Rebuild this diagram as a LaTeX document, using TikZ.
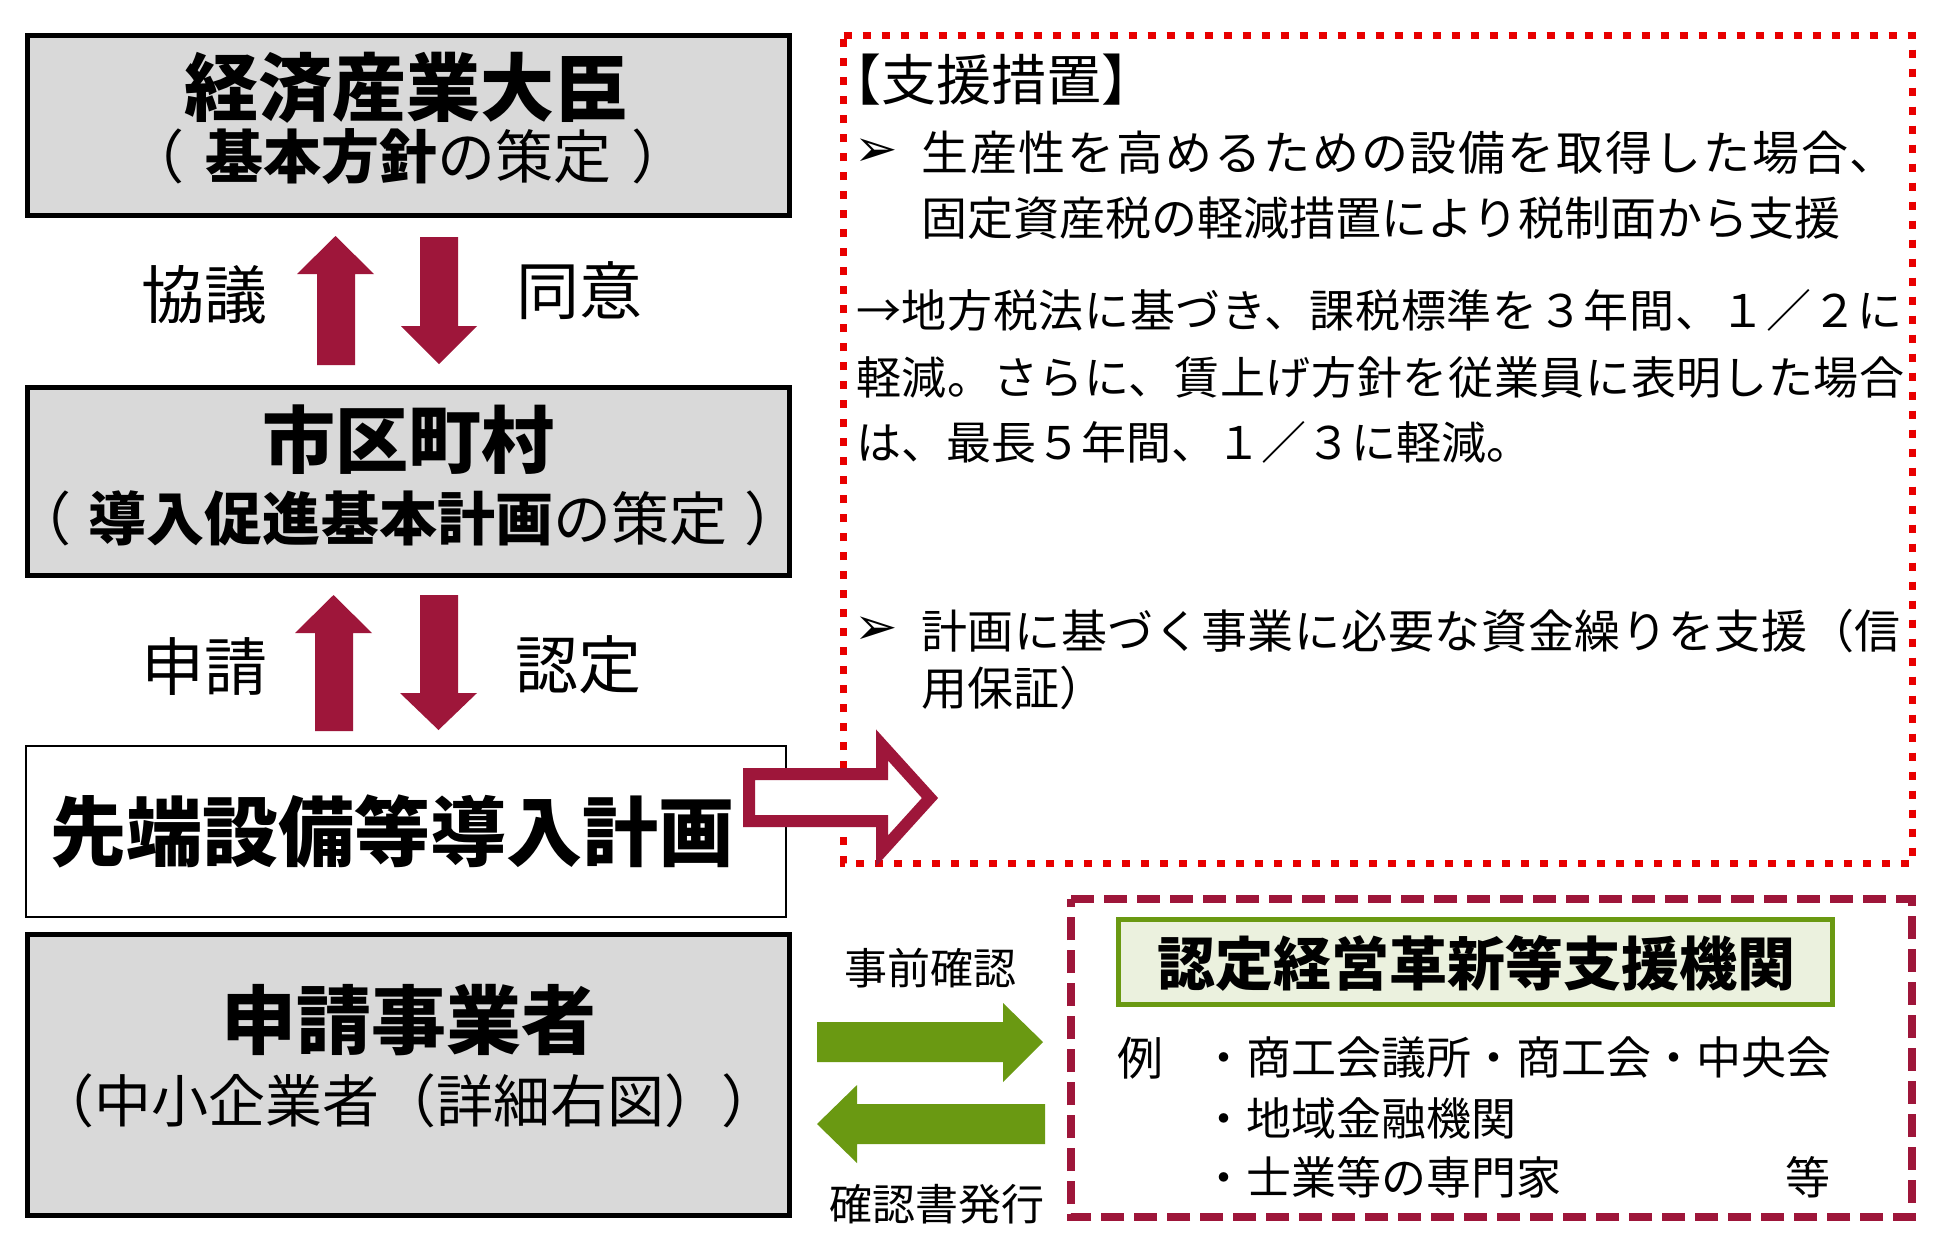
\documentclass[tikz,border=0pt]{standalone}
\usepackage{fontspec}
\setmainfont{Noto Sans CJK JP}
\newfontfamily\dejavu{DejaVu Sans}
\definecolor{maroon}{RGB}{158,22,58}
\definecolor{dotred}{RGB}{232,0,0}
\definecolor{grn}{RGB}{106,153,18}
\definecolor{grnfill}{RGB}{235,241,222}
\definecolor{boxgray}{RGB}{217,217,217}
\newcommand\fs[1]{\fontsize{#1}{#1}\selectfont}
\begin{document}
\begin{tikzpicture}[x=1pt,y=-1pt,
  graybox/.style={draw=black, line width=5pt, fill=boxgray, inner sep=0pt},
  whitebox/.style={draw=black, line width=2.5pt, fill=white, inner sep=0pt},
  txt/.style={inner sep=0pt, text=black},
  bullet/.style={inner sep=0pt, text=black, font=\dejavu\bfseries\fs{52}},
  blockarrow/.style={fill=maroon, draw=none},
  greenarrow/.style={fill=grn, draw=none},
  dottedframe/.style={draw=dotred, line width=7pt, dash pattern=on 8pt off 11pt},
  dashedframe/.style={draw=maroon, line width=8pt, dash pattern=on 23pt off 10pt},
  titlebox/.style={draw=grn, line width=5pt, fill=grnfill, inner sep=0pt}]
\useasboundingbox[fill=white] (0,0) rectangle (1953,1248);

% left boxes
\node[graybox, minimum width=762pt, minimum height=180pt] (b1) at (408.5,125.5) {};
\node[graybox, minimum width=762pt, minimum height=188pt] (b2) at (408.5,481.5) {};
\node[whitebox, minimum width=760pt, minimum height=171pt] (b3) at (406,831.5) {};
\node[graybox, minimum width=762pt, minimum height=281pt] (b4) at (408.5,1075) {};

\node[txt, font=\fs{74}\bfseries] (t1) at (406,88) {経済産業大臣};
\node[txt, font=\fs{58}] (t1b) at (408,157) {（\hspace{0.35em}\textbf{基本方針}の策定\hspace{0.35em}）};
\node[txt, font=\fs{73}\bfseries] (t2) at (408,440) {市区町村};
\node[txt, font=\fs{58}] (t2b) at (408,518) {（\hspace{0.3em}\textbf{導入促進基本計画}の策定\hspace{0.3em}）};
\node[txt, font=\fs{76}\bfseries] (t3) at (392,831) {先端設備等導入計画};
\node[txt, font=\fs{75}\bfseries] (t4) at (409,1020) {申請事業者};
\node[txt, font=\fs{57}] (t4b) at (408,1101) {（中小企業者（詳細右図））};

% vertical arrows, pair 1
\fill[blockarrow] (317,365) -- (317,274) -- (297,274) -- (335.5,236) -- (374,274) -- (355,274) -- (355,365) -- cycle;
\fill[blockarrow] (420,237) -- (458,237) -- (458,326) -- (477,326) -- (439,364) -- (401,326) -- (420,326) -- cycle;
\node[txt, font=\fs{63}] (l1) at (204,295) {協議};
\node[txt, font=\fs{63}] (l2) at (579,291) {同意};
% vertical arrows, pair 2
\fill[blockarrow] (315,731) -- (315,633) -- (295,633) -- (333.5,595) -- (372,633) -- (353,633) -- (353,731) -- cycle;
\fill[blockarrow] (420,595) -- (458,595) -- (458,693) -- (477,693) -- (438.5,730) -- (400,693) -- (420,693) -- cycle;
\node[txt, font=\fs{63}] (l3) at (204,667) {申請};
\node[txt, font=\fs{63}] (l4) at (578,665) {認定};

% support measures frame
\draw[dottedframe] (843.5,35) -- (1912,35) -- (1912,863) -- (843.5,863) -- cycle;
\node[txt, anchor=west, font=\fs{55}] (s0) at (826,80) {【支援措置】};
\node[bullet] (s1b) at (876,153) {➢};
\node[txt, anchor=west, font=\fs{47}\addfontfeature{LetterSpace=4}] (s1) at (921,153) {生産性を高めるための設備を取得した場合、};
\node[txt, anchor=west, font=\fs{46}] (s2) at (921,218) {固定資産税の軽減措置により税制面から支援};
\node[txt, anchor=west, font=\fs{45}\addfontfeature{LetterSpace=1.5}] (s3) at (856,310) {→地方税法に基づき、課税標準を３年間、１／２に};
\node[txt, anchor=west, font=\fs{45}\addfontfeature{LetterSpace=1.5}] (s4) at (856,377) {軽減。さらに、賃上げ方針を従業員に表明した場合};
\node[txt, anchor=west, font=\fs{45}] (s5) at (856,442) {は、最長５年間、１／３に軽減。};
\node[bullet] (s6b) at (876,631) {➢};
\node[txt, anchor=west, font=\fs{46}\addfontfeature{LetterSpace=1.5}] (s6) at (921,631) {計画に基づく事業に必要な資金繰りを支援（信};
\node[txt, anchor=west, font=\fs{46}] (s7) at (921,688) {用保証）};

% hollow arrow from plan to support
\draw[maroon, line width=12pt, fill=white, line join=miter] (749,774) -- (882,774) -- (882,745) -- (930,798) -- (882,851) -- (882,821) -- (749,821) -- cycle;

% support organisation frame
\draw[dashedframe] (1071,899) -- (1912,899) -- (1912,1217) -- (1071,1217) -- cycle;
\node[titlebox, minimum width=714pt, minimum height=85pt] (org) at (1475.5,962) {};
\node[txt, font=\fs{58}\bfseries] (orgt) at (1476,963) {認定経営革新等支援機関};
\node[txt, font=\fs{46}] (ex) at (1140,1058) {例};
\node[txt, anchor=west, font=\fs{45}] (o1) at (1201,1058) {・商工会議所・商工会・中央会};
\node[txt, anchor=west, font=\fs{45}] (o2) at (1201,1118) {・地域金融機関};
\node[txt, anchor=west, font=\fs{45}] (o3) at (1201,1177) {・士業等の専門家};
\node[txt, font=\fs{45}] (o4) at (1808,1177) {等};

% green arrows
\fill[greenarrow] (817,1022) -- (1003,1022) -- (1003,1003) -- (1043,1042) -- (1003,1082) -- (1003,1062) -- (817,1062) -- cycle;
\fill[greenarrow] (1045,1104) -- (857,1104) -- (857,1085) -- (817,1124) -- (857,1163) -- (857,1144) -- (1045,1144) -- cycle;
\node[txt, font=\fs{43}] (g1) at (930,968) {事前確認};
\node[txt, font=\fs{43}] (g2) at (937,1204) {確認書発行};
\end{tikzpicture}
\end{document}
